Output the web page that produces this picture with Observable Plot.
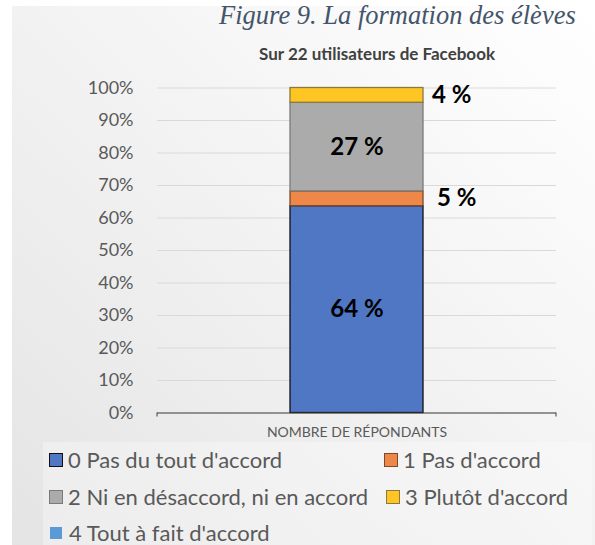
<!DOCTYPE html>
<html>
<head>
<meta charset="utf-8">
<script src="https://cdn.jsdelivr.net/npm/d3@7"></script>
<script src="https://cdn.jsdelivr.net/npm/@observablehq/plot@0.6"></script>
<style>
  html, body { margin: 0; padding: 0; background: #fff; }
  #page { position: relative; width: 595px; height: 545px; overflow: hidden; background: #fff; font-family: Lato, sans-serif; }
  #box { position: absolute; left: 12px; top: 6px; right: 0; bottom: 0;
         background: linear-gradient(to bottom left, #ffffff 0%, #f6f6f6 35%, #ebebeb 75%, #e4e4e4 100%); }
  #legendbg { position: absolute; left: 43px; top: 442px; right: 3px; bottom: 0; background: rgba(255,255,255,0.3); }
  #title { position: absolute; left: 219px; top: 2px; font: italic 26.5px "Liberation Serif", serif; color: #44546a; white-space: nowrap; line-height: 1; }
  #subtitle { position: absolute; left: 377px; top: 44px; transform: translateX(-50%); font: bold 17px Lato, sans-serif; color: #404040; white-space: nowrap; line-height: 20px; }
  #chart { position: absolute; left: 0; top: 0; }
  .item { position: absolute; display: flex; align-items: center; font: 22px Lato, sans-serif; line-height: 1; color: #595959; white-space: nowrap; height: 22px; }
  .sw { width: 14px; height: 14px; margin-right: 5px; box-sizing: border-box; }
</style>
</head>
<body>
<div id="page">
  <div id="box"></div>
  <div id="legendbg"></div>
  <div id="title">Figure 9. La formation des élèves</div>
  <div id="subtitle">Sur 22 utilisateurs de Facebook</div>
  <div id="chart"></div>
  <div id="legend"></div>
</div>
<script>
// ---- data ----
const categories = [
  "0 Pas du tout d'accord",
  "1 Pas d'accord",
  "2 Ni en désaccord, ni en accord",
  "3 Plutôt d'accord",
  "4 Tout à fait d'accord"
];
const counts = [14, 1, 6, 1, 0];
const total = 22;
const barLabels = ["64 %", "5 %", "27 %", "4 %", ""];
const xCategory = "NOMBRE DE RÉPONDANTS";
const yTicks = [0, 0.1, 0.2, 0.3, 0.4, 0.5, 0.6, 0.7, 0.8, 0.9, 1];
const yTickLabels = ["0%", "10%", "20%", "30%", "40%", "50%", "60%", "70%", "80%", "90%", "100%"];
const colors = ["#4f77c4", "#ee8848", "#ababab", "#fec525", "#5b9bd5"];
const borders = ["#101010", "#7a4a2a", "#7a7a7a", "#8a7a3a", "#5b9bd5"];

// ---- derived table ----
let acc = 0;
const data = categories.map((c, i) => {
  const share = counts[i] / total;
  const row = { category: c, group: xCategory, share, y1: acc, y2: acc + share, mid: acc + share / 2, label: barLabels[i], i };
  acc += share;
  return row;
});
const shown = data.filter(d => d.share > 0);
const inside = shown.filter(d => d.i === 0 || d.i === 2);

const endTicks = (index, scales, values, dims) => {
  const g = d3.create("svg:g");
  const y0 = scales.y(0);
  const xl = dims.marginLeft, xr = dims.width - dims.marginRight;
  for (const x of [xl, xr]) {
    g.append("line").attr("x1", x).attr("x2", x).attr("y1", y0).attr("y2", y0 + 4)
      .attr("stroke", "#404040").attr("stroke-width", 1);
  }
  return g.node();
};

const chart = Plot.plot({
  width: 595,
  height: 445,
  marginTop: 87.5,
  marginBottom: 32.5,
  marginLeft: 157,
  marginRight: 39,
  style: { fontFamily: "Lato, sans-serif", background: "transparent", overflow: "visible" },
  x: { domain: [xCategory], padding: 0.5, label: null },
  y: { domain: [0, 1], label: null },
  marks: [
    Plot.gridY(yTicks, { stroke: "#d9d9d9", strokeOpacity: 1, strokeWidth: 1.2 }),
    Plot.axisY(yTicks, { tickSize: 0, tickPadding: 24, fontSize: 18, color: "#595959", label: null,
      tickFormat: d => yTickLabels[yTicks.indexOf(d)] }),
    Plot.axisX({ tickSize: 0, tickPadding: 14, fontSize: 14, color: "#595959", label: null }),
    ...shown.map(d => Plot.barY([d], { x: "group", y1: "y1", y2: "y2", fill: colors[d.i], stroke: borders[d.i], strokeWidth: 1.3 })),
    Plot.ruleY([0], { stroke: "#404040", strokeWidth: 1.2 }),
    endTicks,
    Plot.text(inside, { x: "group", y: "mid", text: "label", fontSize: 24, fontWeight: "bold", fill: "#000" }),
    Plot.text(shown.filter(d => d.i === 1), { x: "group", y: "mid", text: "label", fontSize: 24, fontWeight: "bold", fill: "#000", textAnchor: "start", dx: 80 }),
    Plot.text(shown.filter(d => d.i === 3), { x: "group", y: "mid", text: "label", fontSize: 24, fontWeight: "bold", fill: "#000", textAnchor: "start", dx: 75 })
  ]
});
document.getElementById("chart").appendChild(chart);

// ---- legend ----
const legendPos = [
  { left: 49, top: 449 }, { left: 384, top: 449 },
  { left: 49, top: 486 }, { left: 386, top: 486 },
  { left: 49, top: 522 }
];
const legend = document.getElementById("legend");
categories.forEach((c, i) => {
  const item = document.createElement("div");
  item.className = "item";
  item.style.left = legendPos[i].left + "px";
  item.style.top = legendPos[i].top + "px";
  const sw = document.createElement("span");
  sw.className = "sw";
  sw.style.background = colors[i];
  if (i < 4) sw.style.border = "1px solid " + borders[i];
  else { sw.style.width = "12px"; sw.style.height = "12px"; sw.style.marginLeft = "1px"; sw.style.marginRight = "7px"; }
  const t = document.createElement("span");
  t.textContent = c;
  item.appendChild(sw);
  item.appendChild(t);
  legend.appendChild(item);
});
</script>
</body>
</html>
